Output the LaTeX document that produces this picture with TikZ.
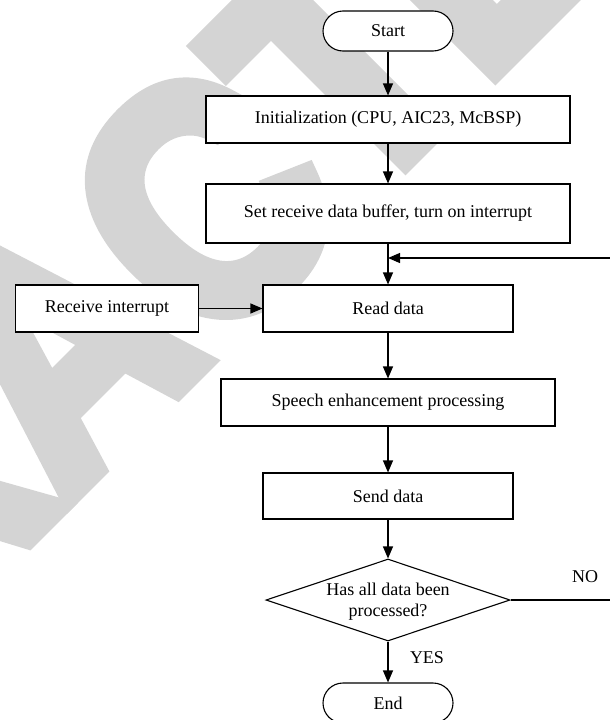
\documentclass[tikz,border=0pt]{standalone}
\usepackage{fontspec}
\usepackage{graphicx}
\setmainfont{Liberation Serif}
\newfontfamily\wmfont{Liberation Sans}[UprightFont=* Bold, FakeBold=6]
\usetikzlibrary{arrows.meta,shapes.geometric}
\definecolor{wmgray}{RGB}{212,212,212}
\tikzset{
  base/.style={draw=black, fill=white, line width=1.1pt, inner sep=0pt,
    font=\fontsize{18}{21}\selectfont},
  procbox/.style={base, rectangle},
  termbox/.style={base, rectangle, rounded corners=20pt, minimum width=130pt, minimum height=40pt},
  decbox/.style={base, diamond, minimum width=244pt, minimum height=82pt},
  lbl/.style={inner sep=0pt, font=\fontsize{18}{21}\selectfont},
  flow/.style={line width=1.1pt, -{Triangle[length=12pt,width=10pt]}},
  wm/.style={inner sep=0pt, text=wmgray, transform shape,
    font=\wmfont\fontsize{330}{330}\selectfont, text height=236pt, text depth=0pt}
}
\begin{document}
\begin{tikzpicture}[x=1pt,y=1pt]
\useasboundingbox (0,0) rectangle (610,-720);
% watermark
\begin{scope}[shift={(200,-200)},rotate=45]
  \foreach \l/\u/\n in {R/-414/a,A/-207/b,C/0/c,T/192/d,E/375/e}
    \node[wm] (wm\n) at (\u,0) {\scalebox{0.87}[1]{\l}};
\end{scope}
% nodes
\node[termbox] (start) at (388,-31) {Start};
\node[procbox, minimum width=364pt, minimum height=47pt] (init) at (388,-119.5) {Initialization (CPU, AIC23, McBSP)};
\node[procbox, minimum width=364pt, minimum height=59pt] (setb) at (388,-213.5) {Set receive data buffer, turn on interrupt};
\node[procbox, minimum width=250pt, minimum height=47pt] (read) at (388,-308.5) {Read data};
\node[procbox, minimum width=183.5pt, minimum height=47pt] (recv) at (107,-308.5) {Receive interrupt};
\node[procbox, minimum width=334pt, minimum height=47pt] (speech) at (388,-402.5) {Speech enhancement processing};
\node[procbox, minimum width=250pt, minimum height=46pt] (send) at (388,-496) {Send data};
\node[decbox] (dec) at (388,-600) {};
\node[lbl, align=center] (dectext) at (388,-602) {Has all data been\\processed?};
\node[termbox] (endn) at (388,-703) {End};
\node[lbl] (no) at (585,-577) {NO};
\node[lbl] (yes) at (427,-658) {YES};
\coordinate (join) at (388,-258);
\coordinate (farright) at (614,-600);
% connectors
\draw[flow] (start) -- (init);
\draw[flow] (init) -- (setb);
\draw[flow] (setb) -- (read);
\draw[flow] (recv) -- (read);
\draw[flow] (read) -- (speech);
\draw[flow] (speech) -- (send);
\draw[flow] (send) -- (dec);
\draw[flow] (dec) -- (endn);
\draw[flow] (dec.east) -- (farright) |- (join);
\end{tikzpicture}
\end{document}
